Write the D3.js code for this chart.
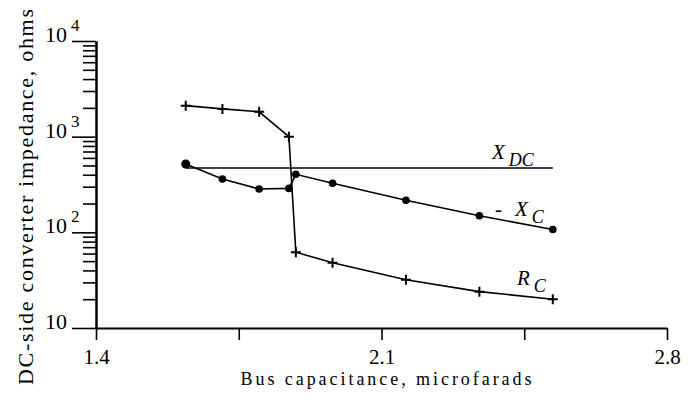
<!DOCTYPE html>
<html><head><meta charset="utf-8">
<script src="https://cdn.jsdelivr.net/npm/d3@7"></script>
<style>
html,body{margin:0;padding:0;background:#fff;}
svg{display:block;}
svg text{font-family:"Liberation Serif","Times New Roman",Tinos,Times,"Nimbus Roman","DejaVu Serif",serif !important;fill:#000;}
</style></head>
<body>
<svg id="chart" width="692" height="401"></svg>
<script>
// Data
const capacitance = [1.62, 1.71, 1.80, 1.873, 1.89, 1.98, 2.16, 2.34, 2.52];
const rcValues    = [2110, 1950, 1820, 1000, 62, 48, 32, 24, 20];
const xcValues    = [518, 361, 284, 288, 404, 326, 216, 149, 107];
const xdcValue    = 471;
const xdcRange    = [1.62, 2.52];
const xTickValues = [1.4, 1.75, 2.1, 2.45, 2.8];
const xTickLabels = ["1.4", "", "2.1", "", "2.8"];
const yMajorTicks = [10, 100, 1000, 10000];
const yMajorExp   = ["", "2", "3", "4"];

const FONT = "'Liberation Serif','Times New Roman',Tinos,Times,'Nimbus Roman','DejaVu Serif',serif";
const svg = d3.select("#chart").style("font-family", FONT);
const x = d3.scaleLinear().domain([1.4, 2.8]).range([96, 667]);
const y = d3.scaleLog().domain([10, 10000]).range([328, 41]);

const minorTicks = [];
[10, 100, 1000].forEach(d => { for (let k = 2; k <= 9; k++) minorTicks.push(d * k); });

// Y axis: minor and major ticks
const gy = svg.append("g").attr("transform", "translate(96,0)");
gy.call(d3.axisLeft(y).tickValues(minorTicks).tickSize(13).tickSizeOuter(0).tickFormat(""));
const gy2 = svg.append("g").attr("transform", "translate(96,0)");
gy2.call(d3.axisLeft(y).tickValues(yMajorTicks).tickSize(24).tickSizeOuter(0).tickFormat(""));
[gy, gy2].forEach(g => {
  g.attr("font-family", FONT);
  g.selectAll("path.domain").attr("stroke", "#000").attr("stroke-width", 2);
  g.selectAll(".tick line").attr("stroke", "#000").attr("stroke-width", 1.6);
});

// Y tick labels with superscripts
yMajorTicks.forEach((v, i) => {
  svg.append("text").attr("x", 67).attr("y", y(v) + 1).attr("font-family", FONT)
    .attr("text-anchor", "end").attr("font-size", 22).text("10");
  if (yMajorExp[i]) {
    svg.append("text").attr("x", 71).attr("y", y(v) - 10).attr("font-family", FONT)
      .attr("font-size", 17).text(yMajorExp[i]);
  }
});

// X axis
const gx = svg.append("g").attr("transform", "translate(0,328)");
gx.call(d3.axisBottom(x).tickValues(xTickValues).tickSize(12).tickSizeOuter(0)
  .tickFormat((d, i) => xTickLabels[i]));
gx.attr("font-family", FONT);
gx.selectAll("path.domain").attr("stroke", "#000").attr("stroke-width", 2);
gx.selectAll(".tick line").attr("stroke", "#000").attr("stroke-width", 1.6);
gx.selectAll(".tick text").attr("y", 36).attr("dy", 0).attr("font-size", 21)
  .attr("font-family", FONT).attr("fill", "#000");

// Axis titles
svg.append("text").attr("x", 386).attr("y", 385).attr("text-anchor", "middle")
  .attr("font-family", FONT)
  .attr("font-size", 18).attr("textLength", 291).attr("lengthAdjust", "spacing")
  .text("Bus capacitance, microfarads");
svg.append("text").attr("transform", "translate(33,197) rotate(-90)")
  .attr("font-family", FONT)
  .attr("text-anchor", "middle").attr("font-size", 22)
  .attr("textLength", 376).attr("lengthAdjust", "spacing")
  .text("DC-side converter impedance, ohms");

const line = d3.line().x(d => x(d[0])).y(d => y(d[1]));
const rc = capacitance.map((c, i) => [c, rcValues[i]]);
const xc = capacitance.map((c, i) => [c, xcValues[i]]);

// X_DC line
svg.append("path").datum(xdcRange.map(c => [c, xdcValue])).attr("d", line)
  .attr("fill", "none").attr("stroke", "#000").attr("stroke-width", 1.6);

svg.append("path").datum(rc).attr("d", line)
  .attr("fill", "none").attr("stroke", "#000").attr("stroke-width", 1.6);
svg.append("path").datum(xc).attr("d", line)
  .attr("fill", "none").attr("stroke", "#000").attr("stroke-width", 1.6);

// Markers
svg.append("g").selectAll("path").data(rc).join("path")
  .attr("d", d => { const cx = x(d[0]), cy = y(d[1]); return `M${cx-5},${cy}H${cx+5}M${cx},${cy-5}V${cy+5}`; })
  .attr("stroke", "#000").attr("stroke-width", 2).attr("fill", "none");
svg.append("g").selectAll("circle").data(xc).join("circle")
  .attr("cx", d => x(d[0])).attr("cy", d => y(d[1]))
  .attr("r", (d, i) => i === 0 ? 4.5 : 3.8).attr("fill", "#000");

// Series labels
function lab(xp, yp, main, sub, size, subSize, prefix) {
  const t = svg.append("text").attr("x", xp).attr("y", yp).attr("font-size", size)
    .attr("font-family", FONT).attr("font-style", "italic");
  if (prefix) t.append("tspan").attr("font-style", "normal").text(prefix);
  t.append("tspan").attr("dx", prefix ? 13 : 0).text(main);
  t.append("tspan").attr("dx", 4).attr("dy", 7).attr("font-size", subSize).text(sub);
}
lab(492, 159, "X", "DC", 21, 18);
lab(495, 216, "X", "C", 21, 18, "-");
lab(517, 285, "R", "C", 21, 18);
</script>
</body></html>
